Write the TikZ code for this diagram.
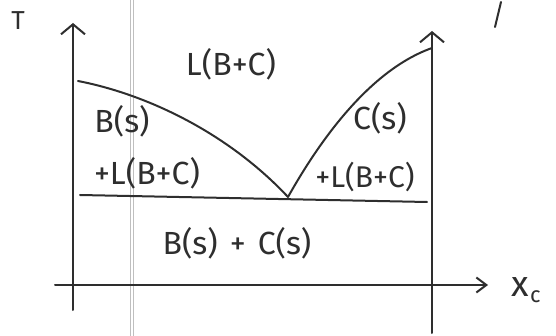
\documentclass[tikz,border=0pt]{standalone}
\usepackage{fontspec}
\setmainfont{Fira Sans}
\usepackage{xcolor}
\definecolor{ink}{HTML}{2E2E2E}
\usetikzlibrary{arrows.meta, positioning}

\begin{document}
\begin{tikzpicture}[x=1pt, y=-1pt,
            pen/.style={draw=ink, line width=2pt, line cap=round, line join=round},
            axis/.style={pen, -{Straight Barb[length=10pt, width=24pt, line width=2pt]}},
            phase/.style={text=ink, font=\fontsize{32}{34}\selectfont, inner sep=0pt},
            small/.style={text=ink, font=\fontsize{26}{28}\selectfont, inner sep=0pt},
            fold/.style={draw=black!25, line width=0.8pt}]
            \useasboundingbox (0,0) rectangle (556,336);

            % Scan fold
            \draw [fold] (130,0) -- (130,336);
            \draw [fold] (133,0) -- (133,336);

            % Axes
            \coordinate (tbot) at (73,310);
            \coordinate (ttop) at (73,23);
            \coordinate (rbot) at (432,333);
            \coordinate (rtop) at (432,31);
            \coordinate (xleft) at (55,285);
            \coordinate (xright) at (488,285);
            \draw [axis] (tbot) -- (ttop);
            \draw [axis] (rbot) -- (rtop);
            \draw [pen, -{Straight Barb[length=10pt, width=15pt, line width=2pt]}] (xleft) -- (xright);

            % Phase lines
            \coordinate (bmelt) at (78,81);
            \coordinate (cmelt) at (432,48);
            \coordinate (eut) at (288,197);
            \coordinate (eleft) at (80,195);
            \coordinate (eright) at (427,202);
            \draw [pen] (bmelt) .. controls (150,95) and (230,135) .. (eut);
            \draw [pen] (eut) .. controls (320,140) and (370,70) .. (cmelt);
            \draw [pen] (eleft) -- (eright);

            % Labels
            \node (tlabel) [small] at (18,21) {T};
            \node (liquid) [phase] at (231,64) {L(B+C)};
            \node (bsolid) [phase] at (122,121) {B(s)};
            \node (bliquid) [phase] at (147,173) {+L(B+C)};
            \node (csolid) [phase] at (380,118) {C(s)};
            \node (cliquid) [phase, font=\fontsize{30}{32}\selectfont] at (365,177) {+L(B+C)};
            \node (solids) [phase] at (237,243) {B(s)\hspace{12pt}+\hspace{12pt}C(s)};
            \node (xlabel) [text=ink, font=\fontsize{36}{38}\selectfont, inner sep=0pt] at (520,287) {x};
            \node (xsub) [text=ink, font=\fontsize{22}{24}\selectfont, inner sep=0pt, right=1pt of xlabel, yshift=-10pt] {c};

            % Page mark
            \coordinate (marktop) at (501,2);
            \coordinate (markbot) at (495,27);
            \draw [pen] (marktop) -- (markbot);
        \end{tikzpicture}
\end{document}
